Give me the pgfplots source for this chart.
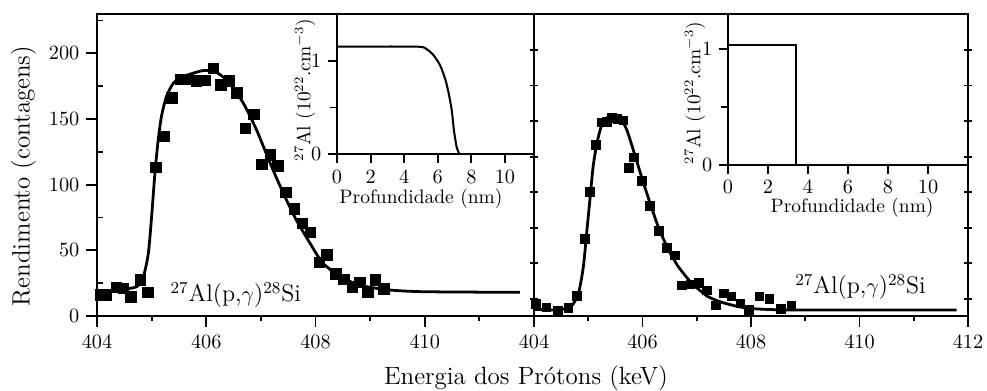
\documentclass[border=0pt]{standalone}
\usepackage{pgfplots}
\pgfplotsset{compat=1.18}
\begin{document}
\begin{tikzpicture}
\path[use as bounding box] (0,0) rectangle (532.98pt,211.14pt);
\pgfplotsset{
  mainax/.style={
    scale only axis, anchor=south west, height=163.08pt,
    xmin=404, xmax=412, ymin=0, ymax=230,
    axis line style={line width=1.3pt},
    tick style={black, line width=1pt},
    major tick length=6pt, minor tick length=2.5pt,
    tick align=outside, xtick pos=left,
    tick label style={font=\fontsize{10.5}{12}\selectfont},
    xticklabel shift=1.2pt,
    clip=false,
  },
  inax/.style={
    scale only axis, anchor=south west,
    axis x line=bottom, axis y line=left,
    axis line style={-, line width=1.2pt},
    tick align=outside, tick style={black, line width=1pt},
    major tick length=5pt, minor tick length=4pt,
    xtick={0,2,...,10}, ytick={0,1}, minor ytick={0.5},
    xmin=0, ymin=0,
    tick label style={font=\fontsize{10.5}{12}\selectfont},
  },
}
% left panel
\begin{axis}[mainax, at={(52.38pt,40.5pt)}, width=235.98pt,
  xtick={404,406,408,410}, minor xtick={405,407,409,411},
  ytick={0,50,100,150,200}, ytick pos=left,
  extra y ticks={25,75,125,175,225}, extra y tick labels={},
  extra y tick style={tick align=inside, major tick length=3pt}]
\addplot[only marks, mark=square*, mark size=2.8pt, black] coordinates {
(404.06,16)(404.17,16)(404.35,22)(404.48,21)(404.62,14.7)(404.79,27.4)(404.93,18)
(405.08,113)(405.23,137)(405.37,166)(405.53,180)(405.67,180.4)(405.82,179)(405.98,179.4)
(406.13,188.8)(406.27,176)(406.42,179)(406.56,170)(406.72,143)(406.87,153.7)(407.02,115.6)
(407.17,122.7)(407.31,114.3)(407.46,94.3)(407.61,81.6)(407.76,70.7)(407.91,63.8)(408.07,40.9)
(408.21,46.5)(408.37,32)(408.52,28)(408.67,21.9)(408.81,25.7)(408.96,17.8)(409.1,27.4)(409.25,20.8)
};
\addplot[black, line width=1.5pt, smooth, tension=0.4] coordinates {
(404.0,17.3)(404.48,20.3)(404.73,22.4)(404.85,30)(404.94,47.8)(405.0,75.7)(405.06,108.7)
(405.12,134)(405.18,152)(405.27,167)(405.4,177.4)(405.58,182.4)(405.95,187)(406.19,185.5)
(406.43,177.4)(406.68,162)(406.92,141.8)(407.17,116.4)(407.41,93.5)(407.65,73)(407.9,55.4)
(408.14,40)(408.51,28.7)(408.87,22.9)(409.36,19.8)(409.97,18.5)(411.74,18)
};
\node[anchor=base west, font=\fontsize{13}{15}\selectfont, inner sep=0pt] at (axis cs:405.34,10.9) {$^{27}$Al(p,$\gamma$)$^{28}$Si};
\end{axis}
% right panel
\begin{axis}[mainax, at={(288.36pt,40.5pt)}, width=234.36pt,
  xtick={404,406,...,412}, minor xtick={405,407,...,411},
  ytick=\empty, ytick pos=both,
  extra y ticks={13,40.1,67.2,94.3,121.4,148.5,175.6,202.7}, extra y tick labels={},
  extra y tick style={tick align=center, major tick length=4pt}]
\addplot[only marks, mark=square*, mark size=2.3pt, black] coordinates {
(404.03,9.1)(404.23,6.6)(404.44,3.8)(404.63,6.3)(404.79,15.5)(404.94,58.7)(405.03,94.7)
(405.14,130.3)(405.24,147.6)(405.34,148)(405.44,150.7)(405.54,150.2)(405.65,148.9)(405.75,113)
(405.84,120.7)(405.99,103)(406.14,84)(406.30,64.8)(406.45,52)(406.60,46)(406.73,23.2)
(406.88,24.1)(407.04,25.4)(407.19,19.5)(407.35,8)(407.50,17.3)(407.64,15)(407.80,9.7)
(407.96,4.8)(408.15,15)(408.34,13.2)(408.55,5.6)(408.74,8)
};
\addplot[black, line width=1.5pt, smooth, tension=0.4] coordinates {
(404.0,5.1)(404.45,4.6)(404.69,7.6)(404.82,17.3)(404.91,37.6)(404.97,63)(405.03,88.4)
(405.09,113.8)(405.16,131.6)(405.25,145.6)(405.37,151.9)(405.46,152.7)(405.59,150.7)
(405.71,141.8)(405.83,126.5)(405.99,105)(406.14,85.9)(406.29,68)(406.48,50.3)(406.66,37.6)
(406.91,24.9)(407.21,14.7)(407.52,9.7)(407.95,5.9)(408.75,4.6)(411.79,4.6)
};
\node[anchor=base west, font=\fontsize{13}{15}\selectfont, inner sep=0pt] at (axis cs:408.81,17.3) {$^{27}$Al(p,$\gamma$)$^{28}$Si};
\end{axis}
% left inset
\begin{axis}[inax, at={(181.98pt,127.98pt)}, width=106.38pt, height=75.6pt, xmax=11.73, ymax=1.505, xticklabel shift=0.5pt]
\addplot[black, line width=1.1pt, smooth, tension=0.4] coordinates {
(0,1.154)(4.74,1.154)(5.34,1.126)(5.73,1.065)(6.13,0.957)(6.43,0.814)(6.63,0.67)(6.83,0.473)(6.96,0.258)(7.12,0.078)(7.28,0)
};
\end{axis}
% right inset
\begin{axis}[inax, at={(393.12pt,122.04pt)}, width=129.6pt, height=81.54pt, xmax=12, ymax=1.305]
\addplot[black, line width=1.1pt] coordinates {(0,1.04)(3.4,1.04)(3.4,0)};
\end{axis}
% labels
\node[rotate=90, font=\fontsize{13.5}{15}\selectfont] at (12.6pt,116.1pt) {Rendimento (contagens)};
\node[anchor=base, font=\fontsize{13.5}{15}\selectfont] at (284pt,3.3pt) {Energia dos Prótons (keV)};
\node[rotate=90, font=\fontsize{10.5}{12}\selectfont] at (164.7pt,162.5pt) {$^{27}$Al (10$^{22}$.cm$^{-3}$)};
\node[rotate=90, font=\fontsize{10.5}{12}\selectfont] at (375.3pt,160.9pt) {$^{27}$Al (10$^{22}$.cm$^{-3}$)};
\node[font=\fontsize{10.5}{12}\selectfont] at (227.3pt,103.8pt) {Profundidade (nm)};
\node[font=\fontsize{10.5}{12}\selectfont] at (460.1pt,98.8pt) {Profundidade (nm)};
\end{tikzpicture}
\end{document}
